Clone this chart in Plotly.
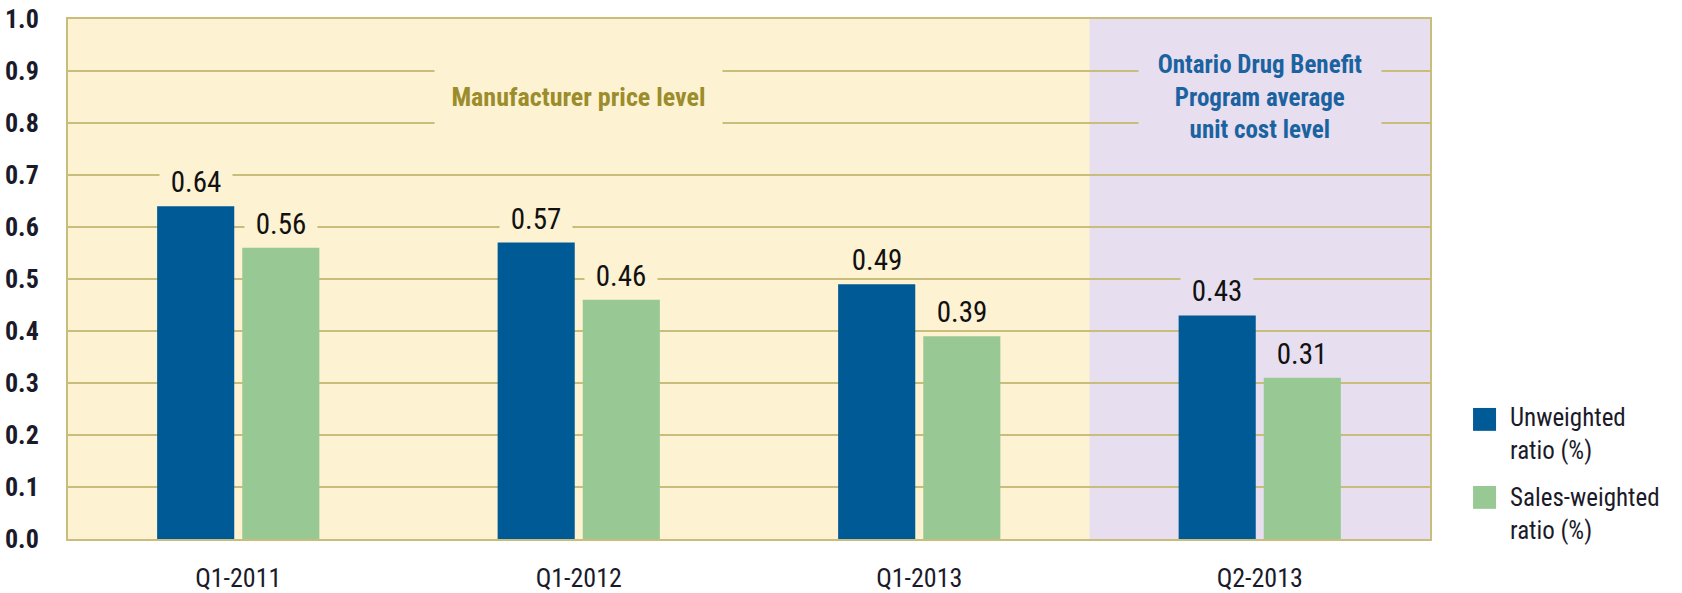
import plotly.graph_objects as go

quarters = ["Q1-2011", "Q1-2012", "Q1-2013", "Q2-2013"]
unweighted = [0.64, 0.57, 0.49, 0.43]
sales_weighted = [0.56, 0.46, 0.39, 0.31]
y_ticks = [0.0, 0.1, 0.2, 0.3, 0.4, 0.5, 0.6, 0.7, 0.8, 0.9, 1.0]

blue = "#005a96"
green = "#98c995"
yellow_bg = "#fdf2d2"
purple_bg = "#e7dfef"
grid = "#c9bd7c"
narrow = "Liberation Sans Narrow, Arial Narrow, Roboto Condensed, Liberation Sans, sans-serif"

fig = go.Figure()
fig.add_trace(go.Bar(x=quarters, y=unweighted, name="Unweighted<br>ratio (%)",
                     marker=dict(color=blue, line=dict(width=0))))
fig.add_trace(go.Bar(x=quarters, y=sales_weighted, name="Sales-weighted<br>ratio (%)",
                     marker=dict(color=green, line=dict(width=0))))

# shaded region for the last quarter
fig.add_shape(type="rect", xref="x", yref="y", x0=2.5, x1=3.5, y0=0, y1=1.0,
              fillcolor=purple_bg, line=dict(width=0), layer="below")

# value labels sit on a patch of background so the gridlines break around them
for i, q in enumerate(quarters):
    bg = purple_bg if i == 3 else yellow_bg
    for val, dx in ((unweighted[i], -42.5), (sales_weighted[i], 42.5)):
        fig.add_annotation(x=q, y=val, xshift=dx, yshift=8, yanchor="bottom",
                           text=f"{val:.2f}", showarrow=False, bgcolor=bg,
                           width=70, height=28,
                           font=dict(family=narrow, size=29, color="#111111"))

fig.add_annotation(x=1, y=0.85, text="<b>Manufacturer price level</b>",
                   showarrow=False, bgcolor=yellow_bg, width=285, height=72,
                   font=dict(family=narrow, size=26, color="#9b8c2c"))
fig.add_annotation(x=3, y=0.85,
                   text="<b>Ontario Drug Benefit<br>Program average<br>unit cost level</b>",
                   showarrow=False, bgcolor=purple_bg, width=240, height=106,
                   font=dict(family=narrow, size=25, color="#1b62a0"))

# legend drawn by hand to get the large square swatches
legend_rows = [(blue, "Unweighted<br>ratio (%)", 0.252, 0.202),
               (green, "Sales-weighted<br>ratio (%)", 0.102, 0.049)]
for col, label, ytop, ymid in legend_rows:
    fig.add_shape(type="rect", xref="paper", yref="paper",
                  x0=1.0316, x1=1.0485, y0=ytop - 0.044, y1=ytop,
                  fillcolor=col, line=dict(width=0))
    fig.add_annotation(xref="paper", yref="paper", x=1.0573, y=ymid,
                       xanchor="left", yanchor="middle", align="left",
                       text=label, showarrow=False,
                       font=dict(family=narrow, size=25, color="#1a1a2a"))

fig.update_layout(
    width=1682, height=593,
    margin=dict(l=68, r=252, t=19, b=54),
    paper_bgcolor="white", plot_bgcolor=yellow_bg,
    barmode="group", bargap=0.5, bargroupgap=0.094,
    showlegend=False,
)
fig.update_xaxes(showgrid=False, showline=True, linecolor=grid, linewidth=2, mirror=True,
                 ticks="", tickfont=dict(family=narrow, size=26, color="#1a1a2a"),
                 ticklabelstandoff=15, range=[-0.5, 3.5], automargin=False)
fig.update_yaxes(range=[0, 1.0], tickvals=y_ticks, tickformat=".1f",
                 showgrid=True, gridcolor=grid, gridwidth=2,
                 showline=True, linecolor=grid, linewidth=2, mirror=True, zeroline=False,
                 ticks="", ticklabelstandoff=22, automargin=False,
                 tickfont=dict(family=narrow, size=26, color="#1a1a2a", weight="bold"))

# the page body has a default 8px margin; drop it so the figure fills the window
fig.write_html("out.html", config={"displayModeBar": False},
               post_script="document.body.style.margin='0px';")
